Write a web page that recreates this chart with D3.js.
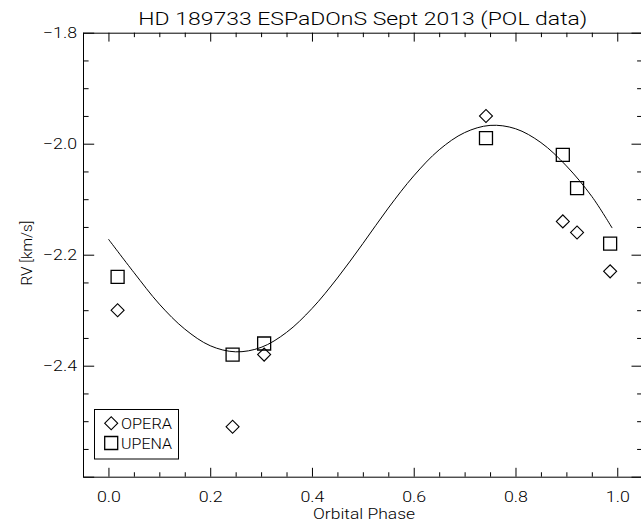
<!DOCTYPE html>
<html>
<head>
<meta charset="utf-8">
<script src="https://cdn.jsdelivr.net/npm/d3@7"></script>
<style>
  html, body { margin: 0; padding: 0; background: #fff; }
  svg { display: block; }
  text { font-family: Roboto, "DejaVu Sans", sans-serif; font-weight: 300; fill: #000; }
</style>
</head>
<body>
<svg id="chart" width="641" height="529"></svg>
<script>
// ---- data ----
const phases   = [0.018, 0.244, 0.306, 0.742, 0.893, 0.921, 0.986];
const operaRV  = [-2.30, -2.51, -2.38, -1.95, -2.14, -2.16, -2.23];
const upenaRV  = [-2.24, -2.38, -2.36, -1.99, -2.02, -2.08, -2.18];
const fitPhase = [0.00, 0.05, 0.10, 0.15, 0.20, 0.25, 0.30, 0.35, 0.40, 0.45, 0.50,
                  0.55, 0.60, 0.65, 0.70, 0.75, 0.80, 0.85, 0.90, 0.95, 0.99];
const fitRV    = [-2.172, -2.232, -2.289, -2.334, -2.364, -2.375, -2.367, -2.340, -2.297, -2.242, -2.180,
                  -2.116, -2.058, -2.011, -1.980, -1.967, -1.973, -1.998, -2.040, -2.095, -2.152];
const xMajorTicks = [0.0, 0.2, 0.4, 0.6, 0.8, 1.0];
const xMinorTicks = [-0.05, 0.05, 0.1, 0.15, 0.25, 0.3, 0.35, 0.45, 0.5, 0.55, 0.65, 0.7, 0.75, 0.85, 0.9, 0.95, 1.05];
const yMajorTicks = [-1.8, -2.0, -2.2, -2.4, -2.6];
const yLabeled    = [-1.8, -2.0, -2.2, -2.4];
const yMinorTicks = [-1.85, -1.9, -1.95, -2.05, -2.1, -2.15, -2.25, -2.3, -2.35, -2.45, -2.5, -2.55];
const titleText = "HD 189733 ESPaDOnS Sept 2013 (POL data)";
const xLabel = "Orbital Phase";
const yLabel = "RV [km/s]";
const legendNames = ["OPERA", "UPENA"];

// ---- layout ----
const L = 83, R = 642.7, T = 32.7, B = 476.7;
const svg = d3.select("#chart");
const x = d3.scaleLinear().domain([-0.05, 1.05]).range([L, R]);
const y = d3.scaleLinear().domain([-2.6, -1.8]).range([B, T]);

const FONT = "Roboto, DejaVu Sans, sans-serif";
const fmt = d => (d < 0 ? "\u2212" : "") + Math.abs(d).toFixed(1);
const xLen = 8.9, yLen = 11.2;

function styleAxis(g) {
  g.selectAll("path").attr("stroke", "#000").attr("stroke-width", 1);
  g.selectAll("line").attr("stroke", "#000").attr("stroke-width", 1);
  g.selectAll("text").attr("font-family", FONT).attr("font-weight", 300)
    .attr("font-size", 15).attr("fill", "#000");
}

// bottom axis
svg.append("g").attr("transform", `translate(0,${B})`)
  .call(d3.axisBottom(x).tickValues(xMajorTicks).tickFormat(d => d.toFixed(1))
    .tickSizeInner(-xLen).tickSizeOuter(0).tickPadding(15))
  .call(styleAxis)
  .call(g => g.selectAll("text").attr("dy", "0.72em").attr("y", 15)
    .attr("textLength", 24).attr("lengthAdjust", "spacingAndGlyphs"));
svg.append("g").attr("transform", `translate(0,${B})`)
  .call(d3.axisBottom(x).tickValues(xMinorTicks).tickFormat("").tickSizeInner(-xLen / 2).tickSizeOuter(0))
  .call(styleAxis).call(g => g.select(".domain").remove());
// top axis
svg.append("g").attr("transform", `translate(0,${T})`)
  .call(d3.axisTop(x).tickValues(xMajorTicks).tickFormat("").tickSizeInner(-xLen).tickSizeOuter(0))
  .call(styleAxis);
svg.append("g").attr("transform", `translate(0,${T})`)
  .call(d3.axisTop(x).tickValues(xMinorTicks).tickFormat("").tickSizeInner(-xLen / 2).tickSizeOuter(0))
  .call(styleAxis).call(g => g.select(".domain").remove());
// left axis
svg.append("g").attr("transform", `translate(${L},0)`)
  .call(d3.axisLeft(y).tickValues(yMajorTicks).tickFormat(d => yLabeled.includes(d) ? fmt(d) : "")
    .tickSizeInner(-yLen).tickSizeOuter(0).tickPadding(6))
  .call(styleAxis)
  .call(g => g.selectAll("text").filter(function () { return this.textContent !== ""; })
    .attr("textLength", 34).attr("lengthAdjust", "spacingAndGlyphs"));
svg.append("g").attr("transform", `translate(${L},0)`)
  .call(d3.axisLeft(y).tickValues(yMinorTicks).tickFormat("").tickSizeInner(-yLen / 2).tickSizeOuter(0))
  .call(styleAxis).call(g => g.select(".domain").remove());
// right axis
svg.append("g").attr("transform", `translate(${R},0)`)
  .call(d3.axisRight(y).tickValues(yMajorTicks).tickFormat("").tickSizeInner(-yLen).tickSizeOuter(0))
  .call(styleAxis);
svg.append("g").attr("transform", `translate(${R},0)`)
  .call(d3.axisRight(y).tickValues(yMinorTicks).tickFormat("").tickSizeInner(-yLen / 2).tickSizeOuter(0))
  .call(styleAxis).call(g => g.select(".domain").remove());

// fit curve
const fit = fitPhase.map((p, i) => [p, fitRV[i]]);
svg.append("path").datum(fit)
  .attr("fill", "none").attr("stroke", "#000").attr("stroke-width", 1)
  .attr("d", d3.line().x(d => x(d[0])).y(d => y(d[1])).curve(d3.curveCatmullRom));

// markers
const sq = 13, diaSide = 13 / Math.SQRT2;
const squarePath = d3.symbol(d3.symbolSquare, sq * sq)();
const diamondPath = d3.symbol(d3.symbolSquare, diaSide * diaSide)();

svg.append("g").selectAll("path").data(phases).join("path")
  .attr("d", diamondPath)
  .attr("transform", (p, i) => `translate(${x(p)},${y(operaRV[i])}) rotate(45)`)
  .attr("fill", "none").attr("stroke", "#000").attr("stroke-width", 1.1);

svg.append("g").selectAll("path").data(phases).join("path")
  .attr("d", squarePath)
  .attr("transform", (p, i) => `translate(${x(p)},${y(upenaRV[i])})`)
  .attr("fill", "none").attr("stroke", "#000").attr("stroke-width", 1.3);

// title and axis labels
svg.append("text").attr("x", (L + R) / 2).attr("y", 25).attr("text-anchor", "middle")
  .attr("font-size", 19).attr("textLength", 449).attr("lengthAdjust", "spacingAndGlyphs")
  .text(titleText);
svg.append("text").attr("x", 364).attr("y", 519).attr("text-anchor", "middle")
  .attr("font-size", 15).attr("textLength", 102).attr("lengthAdjust", "spacingAndGlyphs")
  .text(xLabel);
svg.append("text").attr("transform", "translate(31.5,253) rotate(-90)").attr("text-anchor", "middle")
  .attr("font-size", 15).attr("textLength", 65).attr("lengthAdjust", "spacingAndGlyphs")
  .text(yLabel);

// legend
const lg = svg.append("g");
lg.append("rect").attr("x", 94.5).attr("y", 409.5).attr("width", 84).attr("height", 49.5)
  .attr("fill", "#fff").attr("stroke", "#000").attr("stroke-width", 1);
lg.append("path").attr("d", diamondPath).attr("transform", "translate(111.2,423.3) rotate(45)")
  .attr("fill", "none").attr("stroke", "#000").attr("stroke-width", 1.1);
lg.append("path").attr("d", squarePath).attr("transform", "translate(111.2,443)")
  .attr("fill", "none").attr("stroke", "#000").attr("stroke-width", 1.3);
lg.selectAll("text").data(legendNames).join("text")
  .attr("x", 121).attr("y", (d, i) => i === 0 ? 429.3 : 448.5)
  .attr("font-size", 15).attr("textLength", 51).attr("lengthAdjust", "spacingAndGlyphs")
  .text(d => d);
</script>
</body>
</html>
